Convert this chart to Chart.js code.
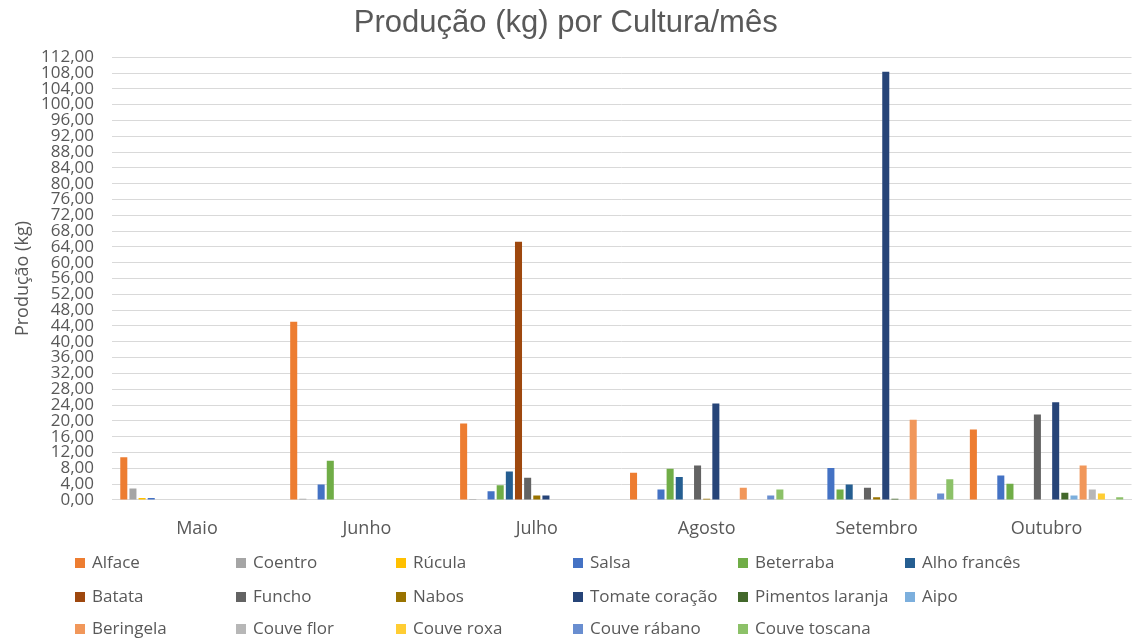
<!DOCTYPE html>
<html>
<head>
<meta charset="utf-8">
<script src="https://cdn.jsdelivr.net/npm/chart.js@4.4.1/dist/chart.umd.min.js"></script>
<style>
  html, body { margin: 0; padding: 0; background: #ffffff; }
  #wrap { position: relative; width: 1133px; height: 641px; }
  #chart { position: absolute; left: 0; top: 0; }
  #legend { position: absolute; left: 0; top: 0; width: 1133px; height: 641px; pointer-events: none; }
  .item { position: absolute; font-family: "Open Sans", sans-serif; font-size: 17px; color: #595959; white-space: nowrap; line-height: 20px; }
  .box { position: absolute; width: 10px; height: 10px; }
</style>
</head>
<body>
<div id="wrap">
  <canvas id="chart" width="1133" height="641"></canvas>
  <div id="legend"></div>
</div>
<script>
const months = ["Maio", "Junho", "Julho", "Agosto", "Setembro", "Outubro"];
const seriesNames = ["Alface", "Coentro", "Rúcula", "Salsa", "Beterraba", "Alho francês",
  "Batata", "Funcho", "Nabos", "Tomate coração", "Pimentos laranja", "Aipo",
  "Beringela", "Couve flor", "Couve roxa", "Couve rábano", "Couve toscana"];
const seriesColors = ["#ED7D31", "#A5A5A5", "#FFC000", "#4472C4", "#70AD47", "#255E91",
  "#9E480E", "#636363", "#997300", "#264478", "#43682B", "#7CAFDD",
  "#F1975A", "#B7B7B7", "#FFCD33", "#698ED0", "#8CC168"];

const alface        = [10.8, 45.1, 19.3, 6.9, 0, 17.8];
const coentro       = [2.9, 0.3, 0.2, 0, 0, 0];
const rucula        = [0.5, 0, 0, 0, 0, 0];
const salsa         = [0.5, 3.9, 2.2, 2.6, 8.1, 6.2];
const beterraba     = [0, 9.9, 3.7, 7.9, 2.6, 4.1];
const alhoFrances   = [0, 0, 7.2, 5.8, 3.9, 0];
const batata        = [0, 0, 65.3, 0, 0, 0];
const funcho        = [0, 0, 5.6, 8.7, 3.1, 21.6];
const nabos         = [0, 0, 1.1, 0.3, 0.7, 0];
const tomateCoracao = [0, 0, 1.1, 24.4, 108.3, 24.7];
const pimentos      = [0, 0, 0, 0, 0.3, 1.8];
const aipo          = [0, 0, 0, 0, 0, 1.1];
const beringela     = [0, 0, 0, 3.1, 20.3, 8.7];
const couveFlor     = [0, 0, 0, 0, 0, 2.6];
const couveRoxa     = [0, 0, 0, 0, 0, 1.6];
const couveRabano   = [0, 0, 0, 1.1, 1.6, 0];
const couveToscana  = [0, 0, 0, 2.6, 5.2, 0.7];

const seriesValues = [alface, coentro, rucula, salsa, beterraba, alhoFrances,
  batata, funcho, nabos, tomateCoracao, pimentos, aipo,
  beringela, couveFlor, couveRoxa, couveRabano, couveToscana];

const yTickMin = 0, yTickMax = 112, yTickStep = 4;
const chartTitle = "Produção (kg) por Cultura/mês";
const yTitle = "Produção (kg)";

const datasets = seriesNames.map((name, i) => ({
  label: name,
  data: seriesValues[i],
  backgroundColor: seriesColors[i],
  borderWidth: 0,
  barPercentage: 0.77,
  categoryPercentage: 0.915
}));

const gray = "#595959";

new Chart(document.getElementById("chart"), {
  type: "bar",
  data: { labels: months, datasets: datasets },
  options: {
    responsive: false,
    animation: false,
    devicePixelRatio: 1,
    layout: { padding: { left: 0, right: 1.5, top: 0, bottom: 83.5 } },
    plugins: {
      legend: { display: false },
      tooltip: { enabled: false },
      title: {
        display: true,
        text: chartTitle,
        color: gray,
        font: { family: "'Liberation Sans', Arial, sans-serif", size: 31, weight: "normal" },
        padding: { top: 5, bottom: 15 }
      }
    },
    scales: {
      x: {
        grid: { display: false, drawTicks: false },
        border: { display: true, color: "#d9d9d9", width: 1 },
        ticks: {
          color: gray,
          padding: 18,
          font: { family: "'Open Sans', sans-serif", size: 18 }
        }
      },
      y: {
        min: yTickMin,
        max: yTickMax,
        afterFit: (scale) => { scale.width = 112; },
        grid: { color: "#d9d9d9", lineWidth: 1, drawTicks: false },
        border: { display: false },
        ticks: {
          stepSize: yTickStep,
          autoSkip: false,
          color: gray,
          padding: 18,
          font: { family: "'Open Sans', sans-serif", size: 17 },
          callback: (v) => Number(v).toFixed(2).replace(".", ",")
        },
        title: {
          display: true,
          text: yTitle,
          color: gray,
          padding: { top: 12, bottom: 0 },
          font: { family: "'Open Sans', sans-serif", size: 18 }
        }
      }
    }
  }
});

// HTML legend built from the series arrays
const legendCols = [75, 236, 396, 573, 738, 905];
const legendRows = [563, 596.5, 628.5];
const legendEl = document.getElementById("legend");
seriesNames.forEach((name, i) => {
  const col = i % 6, row = Math.floor(i / 6);
  const box = document.createElement("div");
  box.className = "box";
  box.style.left = legendCols[col] + "px";
  box.style.top = (legendRows[row] - 5) + "px";
  box.style.background = seriesColors[i];
  legendEl.appendChild(box);
  const t = document.createElement("div");
  t.className = "item";
  t.textContent = name;
  t.style.left = (legendCols[col] + 17) + "px";
  t.style.top = (legendRows[row] - 11) + "px";
  legendEl.appendChild(t);
});
</script>
</body>
</html>
